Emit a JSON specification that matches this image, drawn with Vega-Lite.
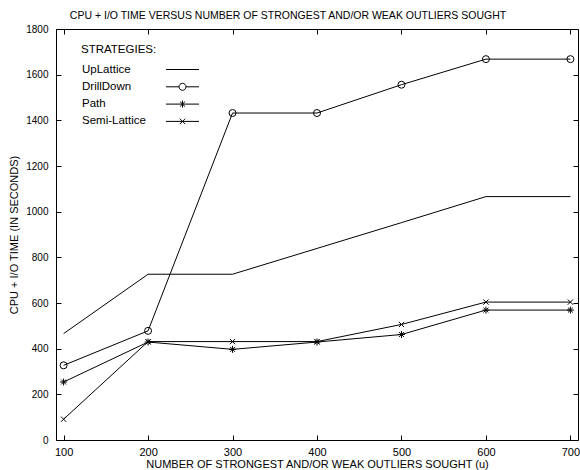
{
  "$schema": "https://vega.github.io/schema/vega-lite/v6.json",
  "width": 522,
  "height": 411,
  "autosize": {"type": "none"},
  "padding": {"left": 56, "top": 29, "right": 2, "bottom": 30},
  "title": {
    "text": "CPU + I/O TIME VERSUS NUMBER OF STRONGEST AND/OR WEAK OUTLIERS SOUGHT",
    "fontSize": 10.5,
    "fontWeight": "normal",
    "font": "Liberation Sans",
    "color": "black",
    "dx": -29,
    "offset": 3
  },
  "config": {
    "font": "Liberation Sans",
    "view": {"stroke": "black", "strokeWidth": 1},
    "axis": {
      "grid": false,
      "domain": false,
      "tickColor": "black",
      "tickSize": -5,
      "tickWidth": 1,
      "labelColor": "black",
      "labelFont": "Liberation Sans",
      "titleFont": "Liberation Sans",
      "titleColor": "black",
      "titleFontWeight": "normal"
    }
  },
  "data": {
    "values": [
      {"u": 100, "time": 466, "strategy": "UpLattice"},
      {"u": 200, "time": 726, "strategy": "UpLattice"},
      {"u": 300, "time": 726, "strategy": "UpLattice"},
      {"u": 400, "time": 839, "strategy": "UpLattice"},
      {"u": 500, "time": 952, "strategy": "UpLattice"},
      {"u": 600, "time": 1066, "strategy": "UpLattice"},
      {"u": 700, "time": 1066, "strategy": "UpLattice"},
      {"u": 100, "time": 327, "strategy": "DrillDown"},
      {"u": 200, "time": 478, "strategy": "DrillDown"},
      {"u": 300, "time": 1432, "strategy": "DrillDown"},
      {"u": 400, "time": 1432, "strategy": "DrillDown"},
      {"u": 500, "time": 1556, "strategy": "DrillDown"},
      {"u": 600, "time": 1668, "strategy": "DrillDown"},
      {"u": 700, "time": 1668, "strategy": "DrillDown"},
      {"u": 100, "time": 254, "strategy": "Path"},
      {"u": 200, "time": 429, "strategy": "Path"},
      {"u": 300, "time": 397, "strategy": "Path"},
      {"u": 400, "time": 429, "strategy": "Path"},
      {"u": 500, "time": 462, "strategy": "Path"},
      {"u": 600, "time": 569, "strategy": "Path"},
      {"u": 700, "time": 569, "strategy": "Path"},
      {"u": 100, "time": 91, "strategy": "Semi-Lattice"},
      {"u": 200, "time": 431, "strategy": "Semi-Lattice"},
      {"u": 300, "time": 431, "strategy": "Semi-Lattice"},
      {"u": 400, "time": 431, "strategy": "Semi-Lattice"},
      {"u": 500, "time": 506, "strategy": "Semi-Lattice"},
      {"u": 600, "time": 604, "strategy": "Semi-Lattice"},
      {"u": 700, "time": 604, "strategy": "Semi-Lattice"}
    ]
  },
  "layer": [
    {
      "mark": {"type": "line", "color": "black", "strokeWidth": 1},
      "encoding": {
        "x": {
          "field": "u",
          "type": "quantitative",
          "scale": {"domain": [91, 709], "nice": false, "zero": false},
          "axis": {
            "orient": "bottom",
            "values": [100, 200, 300, 400, 500, 600, 700],
            "format": "d",
            "labelFontSize": 11,
            "labelPadding": 11,
            "title": "NUMBER OF STRONGEST AND/OR WEAK OUTLIERS SOUGHT (u)",
            "titleFontSize": 11,
            "titlePadding": 1
          }
        },
        "y": {
          "field": "time",
          "type": "quantitative",
          "scale": {"domain": [0, 1800], "nice": false},
          "axis": {
            "orient": "left",
            "values": [0, 200, 400, 600, 800, 1000, 1200, 1400, 1600, 1800],
            "format": "d",
            "labelFontSize": 10,
            "labelPadding": 13,
            "title": "CPU + I/O TIME (IN SECONDS)",
            "titleFontSize": 11,
            "titlePadding": 6
          }
        },
        "detail": {"field": "strategy"}
      }
    },
    {
      "transform": [{"filter": "datum.strategy !== 'UpLattice'"}],
      "mark": {"type": "point", "filled": false, "color": "black", "strokeWidth": 1, "size": 49, "opacity": 1},
      "encoding": {
        "x": {
          "field": "u",
          "type": "quantitative",
          "axis": {"orient": "top", "values": [100, 200, 300, 400, 500, 600, 700], "labels": false, "title": null}
        },
        "y": {
          "field": "time",
          "type": "quantitative",
          "axis": {"orient": "right", "values": [0, 200, 400, 600, 800, 1000, 1200, 1400, 1600, 1800], "labels": false, "title": null}
        },
        "shape": {
          "field": "strategy",
          "type": "nominal",
          "scale": {
            "domain": ["DrillDown", "Path", "Semi-Lattice"],
            "range": [
              "circle",
              "M-1,0H1M0,-1V1M-0.7,-0.7L0.7,0.7M-0.7,0.7L0.7,-0.7",
              "M-0.75,-0.75L0.75,0.75M-0.75,0.75L0.75,-0.75"
            ]
          },
          "legend": null
        }
      }
    },
    {
      "transform": [{"filter": "false"}],
      "mark": {"type": "point", "filled": false, "color": "black", "strokeWidth": 1},
      "encoding": {
        "x": {"field": "u", "type": "quantitative", "axis": null},
        "y": {"field": "time", "type": "quantitative", "axis": null},
        "shape": {
          "field": "strategy",
          "type": "nominal",
          "scale": {
            "domain": ["UpLattice", "DrillDown", "Path", "Semi-Lattice"],
            "range": [
              "M-2.75,0H2.75",
              "M-2.75,0H-0.583A0.583,0.583 0 1,1 0.583,0A0.583,0.583 0 1,1 -0.583,0M0.583,0H2.75",
              "M-2.75,0H2.75M0,-0.583V0.583M-0.42,-0.42L0.42,0.42M-0.42,0.42L0.42,-0.42",
              "M-2.75,0H2.75M-0.45,-0.45L0.45,0.45M-0.45,0.45L0.45,-0.45"
            ]
          },
          "legend": {
            "orient": "none",
            "legendX": 25,
            "legendY": 15,
            "title": "STRATEGIES:",
            "titleFontSize": 11.5,
            "titleFontWeight": "normal",
            "titleColor": "black",
            "titlePadding": 7.5,
            "labelFontSize": 11.5,
            "labelColor": "black",
            "labelAlign": "left",
            "labelOffset": -107,
            "symbolOffset": 95,
            "symbolSize": 144,
            "symbolStrokeWidth": 1,
            "symbolStrokeColor": "black",
            "symbolFillColor": "transparent",
            "symbolOpacity": 1,
            "rowPadding": 5.3,
            "padding": 0
          }
        }
      }
    }
  ],
  "resolve": {
    "scale": {"shape": "independent"},
    "axis": {"x": "independent", "y": "independent"}
  }
}
